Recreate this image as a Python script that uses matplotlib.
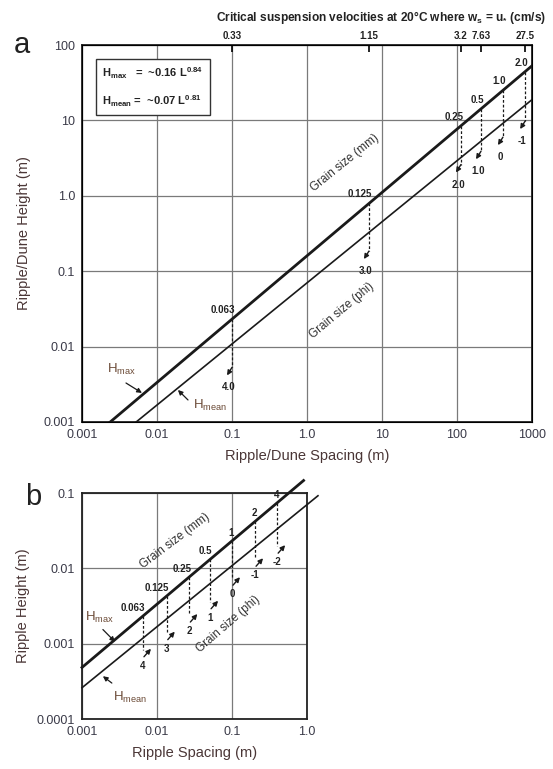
import matplotlib
matplotlib.use('Agg')
import matplotlib.pyplot as plt
import numpy as np
from matplotlib.transforms import offset_copy

plt.rcParams['font.family'] = ['Liberation Sans', 'DejaVu Sans']
plt.rcParams['mathtext.fontset'] = 'custom'
plt.rcParams['mathtext.rm'] = 'Liberation Sans'
plt.rcParams['mathtext.it'] = 'Liberation Sans:italic'
plt.rcParams['mathtext.bf'] = 'Liberation Sans:bold'

# fitted bedform height relations, H = c * L^e
hmax_coef, hmax_exp = 0.16, 0.84
hmean_coef, hmean_exp = 0.07, 0.81

# panel a: grain sizes along the lines
grain_mm_a = ['0.063', '0.125', '0.25', '0.5', '1.0', '2.0']
grain_phi_a = ['4.0', '3.0', '2.0', '1.0', '0', '-1']
spacing_a = [0.1, 6.7, 113, 209, 410, 810]
drop_end_a = [0.0053, 0.185, 2.6, 3.9, 6.0, 9.8]

# panel a: top axis, critical suspension velocities (cm/s)
velocity_labels = ['0.33', '1.15', '3.2', '7.63', '27.5']
velocity_spacing = [0.1, 6.7, 113, 209, 810]

# panel b: ripples only
grain_mm_b = ['0.063', '0.125', '0.25', '0.5', '1', '2', '4']
grain_phi_b = ['4', '3', '2', '1', '0', '-1', '-2']
spacing_b = [0.0065, 0.0135, 0.027, 0.051, 0.1, 0.203, 0.40]
drop_end_b = [0.00083, 0.0014, 0.0024, 0.0036, 0.0074, 0.0132, 0.0197]

xticks_a = [0.001, 0.01, 0.1, 1, 10, 100, 1000]
xticklabels_a = ['0.001', '0.01', '0.1', '1.0', '10', '100', '1000']
yticks_a = [0.001, 0.01, 0.1, 1, 10, 100]
yticklabels_a = ['0.001', '0.01', '0.1', '1.0', '10', '100']
xticks_b = [0.001, 0.01, 0.1, 1]
xticklabels_b = ['0.001', '0.01', '0.1', '1.0']
yticks_b = [0.0001, 0.001, 0.01, 0.1]
yticklabels_b = ['0.0001', '0.001', '0.01', '0.1']

TICK_COLOR = '#3a3a48'
LABEL_COLOR = '#4a3636'
H_COLOR = '#6b4a36'
INK = '#1a1a1a'


def hmax(L):
    return hmax_coef * np.asarray(L) ** hmax_exp


def hmean(L):
    return hmean_coef * np.asarray(L) ** hmean_exp


def setup_axes(ax, xticks, xlabels, yticks, ylabels, xlabel, ylabel, ylabelpad):
    ax.set_xscale('log')
    ax.set_yscale('log')
    ax.set_xlim(xticks[0], xticks[-1])
    ax.set_ylim(yticks[0], yticks[-1])
    ax.set_xticks(xticks)
    ax.set_xticklabels(xlabels)
    ax.set_yticks(yticks)
    ax.set_yticklabels(ylabels)
    ax.xaxis.set_minor_locator(matplotlib.ticker.NullLocator())
    ax.yaxis.set_minor_locator(matplotlib.ticker.NullLocator())
    ax.tick_params(length=0, labelsize=9, labelcolor=TICK_COLOR, pad=5)
    ax.grid(True, color='#7a7a7a', lw=0.9)
    for sp in ax.spines.values():
        sp.set_linewidth(1.3)
        sp.set_color('#222222')
    ax.set_xlabel(xlabel, fontsize=10.5, color=LABEL_COLOR, labelpad=6)
    ax.set_ylabel(ylabel, fontsize=10.5, color=LABEL_COLOR, labelpad=ylabelpad)


def shifted(fig, ax, dx, dy):
    return offset_copy(ax.transData, fig=fig, x=dx, y=dy, units='dots')


def draw_grains(fig, ax, spacing, drop_end, mm_labels, phi_labels,
                tail, head, mm_off, phi_off):
    for L, h_end, mm, phi in zip(spacing, drop_end, mm_labels, phi_labels):
        h_top = float(hmax(L))
        ax.plot([L, L], [h_top, h_end], ls=(0, (2.2, 1.6)), color=INK,
                lw=0.9, clip_on=False, zorder=3)
        ax.annotate('', xy=(L, h_end), xycoords=shifted(fig, ax, *head),
                    xytext=(L, h_end), textcoords=shifted(fig, ax, *tail),
                    arrowprops=dict(arrowstyle='-|>', color=INK, lw=1.0,
                                    mutation_scale=7, shrinkA=0, shrinkB=0))
        ax.text(L, h_top, mm, transform=shifted(fig, ax, *mm_off),
                ha='right', va='bottom', fontsize=7, fontweight='bold', color='#222222')
        ax.text(L, h_end, phi, transform=shifted(fig, ax, *phi_off),
                ha='center', va='center', fontsize=7, fontweight='bold', color='#222222')


fig = plt.figure(figsize=(5.53, 7.69), dpi=100)

# ---------------- panel a ----------------
ax = fig.add_axes([82 / 553, 1 - 422 / 769, 450 / 553, 377 / 769])
setup_axes(ax, xticks_a, xticklabels_a, yticks_a, yticklabels_a,
           'Ripple/Dune Spacing (m)', 'Ripple/Dune Height (m)', 9)

L = np.logspace(-3.5, 3, 200)
ax.plot(L, hmax(L), color=INK, lw=2.0, zorder=4)
ax.plot(L, hmean(L), color=INK, lw=1.2, zorder=4)

draw_grains(fig, ax, spacing_a, drop_end_a, grain_mm_a, grain_phi_a,
            tail=(0, 0), head=(-5, -8), mm_off=(3, 4), phi_off=(-3, -20))

ax.text(3.2, 2.7, 'Grain size (mm)', rotation=39, ha='center', va='center',
        fontsize=8.5, color='#333333')
ax.text(2.9, 0.03, 'Grain size (phi)', rotation=40, ha='center', va='center',
        fontsize=8.5, color='#333333')

ax.text(0.0034, 0.0050, r'H$_{\mathrm{max}}$', ha='center', va='center',
        fontsize=9.5, color=H_COLOR)
ax.annotate('', xy=(0.0063, 0.00243), xytext=(0.00386, 0.00329),
            arrowprops=dict(arrowstyle='-|>', color=INK, lw=0.9, mutation_scale=7,
                            shrinkA=0, shrinkB=0))
ax.text(0.051, 0.00168, r'H$_{\mathrm{mean}}$', ha='center', va='center',
        fontsize=9.5, color=H_COLOR)
ax.annotate('', xy=(0.019, 0.00266), xytext=(0.0259, 0.00196),
            arrowprops=dict(arrowstyle='-|>', color=INK, lw=0.9, mutation_scale=7,
                            shrinkA=0, shrinkB=0))

ax.text(0.045, 0.945,
        'H$_{\\mathbf{max}}$   =  ~0.16 L$^{\\mathbf{0.84}}$\n'
        'H$_{\\mathbf{mean}}$ =  ~0.07 L$^{\\mathbf{0.81}}$',
        transform=ax.transAxes, ha='left', va='top', fontsize=8,
        fontweight='bold', color='#222222', linespacing=2.0,
        bbox=dict(boxstyle='square,pad=0.6', fc='white', ec='#333333', lw=1.0))

# top axis: critical suspension velocities
ax_top = ax.twiny()
ax_top.set_xscale('log')
ax_top.set_xlim(ax.get_xlim())
ax_top.set_xticks(velocity_spacing)
ax_top.set_xticklabels(velocity_labels)
ax_top.xaxis.set_minor_locator(matplotlib.ticker.NullLocator())
ax_top.tick_params(direction='in', length=5, width=1.2, labelsize=7, pad=3,
                   labelcolor='#222222')
for lab in ax_top.get_xticklabels():
    lab.set_fontweight('bold')

fig.text(381 / 553, 1 - 18 / 769,
         r'Critical suspension velocities at 20°C where w$_{\mathbf{s}}$ = u$_{\mathbf{*}}$ (cm/s)',
         ha='center', va='center', fontsize=8.6, fontweight='bold', color='#222222')

fig.text(22 / 553, 1 - 45 / 769, 'a', ha='center', va='center', fontsize=21,
         color='#222222')

# ---------------- panel b ----------------
bx = fig.add_axes([82 / 553, 1 - 719 / 769, 225 / 553, 226 / 769])
setup_axes(bx, xticks_b, xticklabels_b, yticks_b, yticklabels_b,
           'Ripple Spacing (m)', 'Ripple Height (m)', 5)

Lb = np.logspace(-3, np.log10(0.9), 100)
bx.plot(Lb, hmax(Lb), color=INK, lw=2.0, clip_on=False, zorder=4)
Lb2 = np.logspace(-3, np.log10(1.4), 100)
bx.plot(Lb2, hmean(Lb2), color=INK, lw=1.2, clip_on=False, zorder=4)

draw_grains(fig, bx, spacing_b, drop_end_b, grain_mm_b, grain_phi_b,
            tail=(1, -7), head=(8, 1), mm_off=(2, 3), phi_off=(0, -16))

bx.text(0.0174, 0.0229, 'Grain size (mm)', rotation=37, ha='center', va='center',
        fontsize=8.5, color='#333333')
bx.text(0.0885, 0.00179, 'Grain size (phi)', rotation=41, ha='center', va='center',
        fontsize=8.5, color='#333333')

bx.text(0.00174, 0.00222, r'H$_{\mathrm{max}}$', ha='center', va='center',
        fontsize=9.5, color=H_COLOR)
bx.annotate('', xy=(0.00275, 0.00106), xytext=(0.0019, 0.00154),
            arrowprops=dict(arrowstyle='-|>', color=INK, lw=0.9, mutation_scale=7,
                            shrinkA=0, shrinkB=0))
bx.text(0.00437, 0.000196, r'H$_{\mathrm{mean}}$', ha='center', va='center',
        fontsize=9.5, color=H_COLOR)
bx.annotate('', xy=(0.0019, 0.00037), xytext=(0.0025, 0.0003),
            arrowprops=dict(arrowstyle='-|>', color=INK, lw=0.9, mutation_scale=7,
                            shrinkA=0, shrinkB=0))

fig.text(33 / 553, 1 - 497 / 769, 'b', ha='center', va='center', fontsize=21,
         color='#222222')

fig.savefig('out.png', dpi=100)
